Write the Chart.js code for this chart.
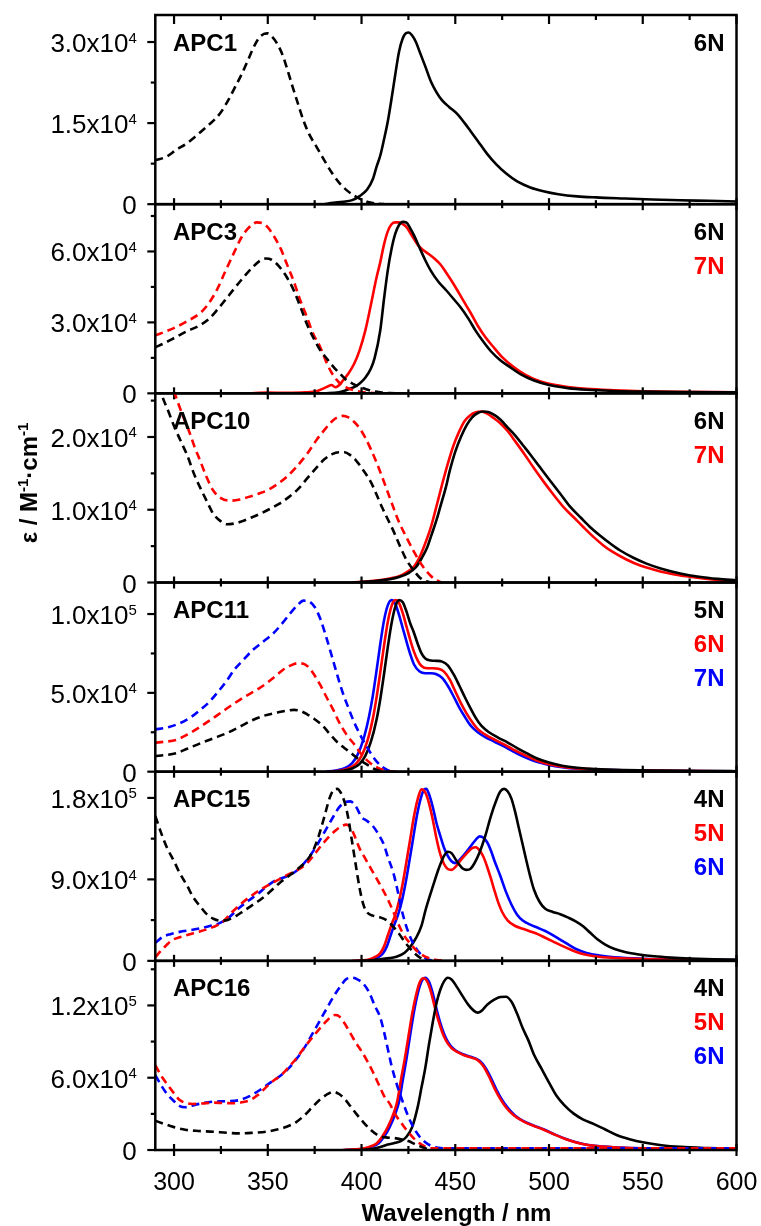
<!DOCTYPE html>
<html lang="en">
<head>
  <meta charset="UTF-8">
  <title>APC absorption / emission spectra</title>
  <script src="https://cdn.jsdelivr.net/npm/chart.js@4.4.1/dist/chart.umd.min.js"></script>
  <style>
    body { margin: 0; background: #fff; }
    #wrap { position: relative; width: 761px; height: 1226px; }
    #wrap canvas { position: absolute; left: 0; top: 0; }
  </style>
</head>
<body>
  <div id="wrap"></div>

  <script>
    // x axis (wavelength, nm)
    const xRange = [290, 600];
    const xMajor = [300, 350, 400, 450, 500, 550, 600];
    const xMinor = [325, 375, 425, 475, 525, 575];

    // y axis ticks per panel
    const apc1Ticks = [0, 15000, 30000];
    const apc3Ticks = [0, 30000, 60000];
    const apc10Ticks = [0, 10000, 20000];
    const apc11Ticks = [0, 50000, 100000];
    const apc15Ticks = [0, 90000, 180000];
    const apc16Ticks = [0, 60000, 120000];
    const yMaxes = [35000, 80000, 26000, 120000, 209000, 157000];

    // ---- APC1 ----
    const apc1Abs6N = [[290,8100],[296,8800],[301,10000],[307,11300],[312,12700],[317,14200],[322,15800],[325,17000],[329,19300],[332,21300],[336,24000],[339,26300],[342,28700],[345,30600],[348,31500],[350,31600],[352,31100],[355,29700],[358,27500],[360,25400],[363,22000],[366,18700],[369,15500],[372,13000],[376,10600],[380,8200],[384,5900],[388,4000],[392,2600],[396,1600],[400,850],[404,350],[408,100],[412,0]];
    const apc1Em6N = [[380,0],[385,250],[390,450],[395,750],[399,1500],[403,2700],[406,4600],[408,6900],[410,9000],[412,12000],[414,15300],[416,19500],[418,24000],[420,28200],[422,30700],[424,31700],[425,31750],[427,31200],[429,30000],[431,28200],[434,25500],[437,22700],[440,20700],[443,19200],[447,17900],[451,16700],[455,15000],[458,13600],[462,11700],[467,9300],[472,7300],[477,5700],[483,4200],[490,3100],[497,2400],[505,1850],[515,1450],[525,1250],[540,1050],[555,870],[570,730],[585,620],[600,500]];

    // ---- APC3 ----
    const apc3Abs6N = [[290,19500],[295,21300],[301,23800],[307,26300],[314,28900],[319,31800],[323,35300],[327,39200],[332,44200],[337,49000],[342,53400],[346,56200],[349,57000],[352,56500],[356,53700],[360,49300],[364,43300],[368,35300],[371,29000],[375,22500],[378,18200],[382,14200],[385,11200],[389,7900],[392,5600],[396,3800],[399,2700],[403,1600],[406,900],[410,400],[415,100],[420,0]];
    const apc3Abs7N = [[290,24500],[295,26000],[301,28000],[307,30500],[314,34000],[318,37500],[323,44000],[327,51000],[332,59500],[336,66000],[339,69300],[342,71500],[344,72300],[347,72000],[350,70200],[353,66800],[357,61000],[360,55000],[364,47000],[367,40000],[371,32000],[374,25500],[378,19500],[381,13600],[384,8800],[388,4600],[392,2400],[396,1300],[400,600],[405,200],[410,0]];
    const apc3Em6N = [[380,0],[388,500],[392,1400],[396,2600],[399,4200],[402,6600],[405,10500],[407,15000],[410,26700],[412,40000],[414,52000],[416,61000],[418,67500],[420,71200],[422,72500],[424,72200],[426,69800],[428,66800],[431,61500],[434,56300],[437,51800],[441,47200],[445,43700],[449,40000],[453,36200],[457,31600],[461,26300],[465,21800],[469,17800],[474,14000],[479,11200],[485,8000],[492,5400],[500,3500],[510,2200],[520,1500],[535,1000],[550,750],[570,550],[600,400]];
    const apc3Em7N = [[340,0],[350,300],[360,200],[370,400],[376,900],[380,2200],[382,2900],[384,3500],[386,2600],[388,3400],[390,5300],[393,8400],[396,12400],[399,18300],[402,26500],[405,37500],[408,49000],[410,55500],[412,63000],[414,68500],[416,71500],[418,72300],[420,72300],[422,71500],[424,70300],[427,66500],[430,62800],[433,60500],[436,58800],[439,56900],[442,54600],[445,51200],[448,47600],[451,43700],[454,39600],[458,34300],[462,28600],[466,23800],[470,19900],[475,15300],[481,11200],[487,8000],[494,5400],[502,3700],[510,2700],[520,1900],[535,1300],[550,900],[570,650],[600,450]];

    // ---- APC10 ----
    const apc10Abs6N = [[290,28800],[294,25400],[297,23500],[300,21500],[304,19200],[307,17500],[311,14700],[314,13000],[318,10900],[321,9400],[325,8400],[328,8000],[332,8100],[336,8400],[341,8900],[346,9450],[351,10100],[356,10800],[361,11700],[366,12800],[371,14300],[376,15800],[380,16900],[384,17600],[388,17900],[391,17900],[394,17500],[397,16800],[401,15400],[405,13800],[408,12100],[411,10300],[414,8700],[417,7100],[420,5300],[424,3100],[428,1600],[431,700],[434,200],[437,0]];
    const apc10Abs7N = [[290,33000],[295,30000],[299,27000],[302,24800],[305,22700],[308,20800],[311,18600],[314,16700],[317,14700],[321,12600],[325,11600],[330,11250],[335,11400],[339,11700],[345,12200],[350,12700],[355,13500],[360,14500],[365,15800],[371,17700],[376,19600],[380,20900],[384,22100],[387,22700],[390,22900],[393,22700],[396,22100],[399,21200],[402,19900],[405,18300],[408,16500],[411,14500],[414,12400],[417,10300],[420,8300],[424,6200],[428,4200],[433,2100],[437,900],[440,300],[443,0]];
    const apc10Em6N = [[395,0],[405,150],[410,300],[415,450],[420,750],[425,1300],[429,2100],[432,3300],[435,4800],[437,6300],[440,8600],[442,10400],[445,13100],[447,15300],[450,18000],[453,20000],[456,21600],[459,22700],[462,23300],[465,23500],[468,23400],[471,23000],[474,22400],[478,21300],[482,20200],[486,18900],[490,17600],[495,15900],[500,14200],[506,12200],[511,10500],[517,8900],[522,7600],[527,6500],[533,5300],[538,4400],[545,3400],[552,2600],[560,1900],[570,1250],[580,800],[590,500],[600,300]];
    const apc10Em7N = [[395,0],[405,200],[410,350],[415,550],[420,850],[424,1400],[428,2200],[431,3500],[434,5400],[437,7600],[440,10500],[443,13500],[446,16300],[449,18800],[452,20700],[455,22200],[458,23000],[461,23400],[464,23500],[467,23200],[470,22700],[474,21900],[478,20800],[482,19400],[487,17600],[492,15700],[497,13900],[502,12200],[508,10300],[513,9000],[518,7700],[524,6200],[529,5100],[534,4200],[541,3200],[549,2300],[557,1700],[567,1100],[578,700],[590,350],[600,150]];

    // ---- APC11 ----
    const apc11Abs5N = [[290,9900],[295,10500],[301,11700],[307,14500],[314,18000],[321,21200],[328,24400],[335,28500],[342,32800],[348,35500],[355,37500],[360,38700],[364,39200],[367,38700],[371,36400],[375,33300],[379,29500],[383,24000],[387,18800],[391,14900],[395,11200],[399,7400],[403,4500],[406,2200],[409,800],[413,0]];
    const apc11Abs6N = [[290,18400],[295,19000],[301,20100],[307,23500],[314,28500],[320,33300],[326,38300],[332,43200],[338,47800],[344,51800],[349,55800],[354,60600],[358,64500],[362,67300],[366,68800],[369,68500],[372,66000],[375,61000],[378,55000],[381,48000],[385,39000],[388,31500],[392,23500],[396,17500],[399,12500],[403,7200],[407,3500],[410,1800],[414,500],[418,0]];
    const apc11Abs7N = [[290,26800],[296,28000],[303,30700],[309,34600],[314,39200],[319,44500],[323,50000],[328,57500],[332,64500],[337,71000],[342,77200],[347,82000],[353,87800],[358,94500],[362,100500],[366,105800],[369,108500],[372,108000],[375,104500],[378,97000],[381,86000],[384,74000],[387,61500],[390,50000],[393,40500],[396,31500],[399,24000],[402,17500],[405,11500],[408,6500],[411,3000],[414,1000],[418,0]];
    const apc11Em5N = [[385,0],[390,600],[395,2000],[399,5000],[402,10000],[405,19000],[408,33000],[410,46000],[412,62000],[414,79000],[416,94000],[418,104500],[420,108800],[422,107500],[424,101500],[426,94000],[428,88000],[430,81000],[432,75000],[434,71800],[437,70500],[440,70300],[443,69800],[446,67500],[449,62000],[452,55000],[455,47500],[458,40500],[461,34000],[464,29000],[468,25000],[473,21500],[478,18500],[483,15000],[488,11800],[494,8200],[500,5800],[507,3800],[515,2500],[525,1600],[540,1000],[560,650],[580,450],[600,300]];
    const apc11Em6N = [[383,0],[388,600],[393,2000],[397,5000],[400,10000],[403,19000],[406,33500],[408,47000],[410,63000],[412,80000],[414,95000],[416,105000],[418,108800],[420,107000],[422,100500],[424,92000],[426,83500],[428,76000],[430,70500],[432,67000],[435,65600],[438,65600],[441,65300],[444,63500],[447,58500],[450,51000],[453,43500],[456,37000],[459,31500],[462,27000],[466,23500],[471,20300],[476,17300],[481,14000],[487,10500],[493,7300],[500,4800],[507,3200],[515,2100],[525,1400],[540,900],[560,600],[580,400],[600,300]];
    const apc11Em7N = [[381,0],[386,700],[391,2200],[395,5500],[398,11000],[401,20500],[404,35000],[406,48000],[408,64000],[410,81000],[412,96000],[414,105500],[416,108800],[418,106500],[420,99500],[422,91000],[424,82500],[426,74500],[428,68000],[431,63500],[434,62400],[437,62400],[440,61800],[443,59500],[446,54500],[449,48000],[452,41000],[455,35000],[458,29500],[462,25000],[466,22000],[471,19000],[476,16000],[481,12800],[487,9300],[493,6400],[500,4300],[507,2900],[515,1900],[525,1300],[540,850],[560,550],[580,400],[600,300]];

    // ---- APC15 ----
    const apc15Abs4N = [[290,160000],[293,142000],[296,126000],[300,110000],[303,97000],[307,83000],[310,71000],[314,60000],[317,52500],[321,46500],[325,44300],[329,45500],[333,49500],[337,55000],[341,60500],[346,67500],[351,76000],[356,85500],[361,93500],[366,101500],[370,109000],[374,121000],[377,137000],[380,158000],[383,180000],[385,188500],[387,190000],[389,185500],[391,175000],[393,157000],[395,131000],[397,105000],[399,80000],[401,62000],[403,53500],[406,50000],[410,48000],[414,44000],[417,37500],[420,30000],[423,21000],[426,13500],[429,7000],[432,2500],[435,0]];
    const apc15Abs5N = [[290,4000],[293,11000],[296,17500],[299,23000],[303,26000],[307,28500],[312,31500],[317,34500],[321,37500],[326,43000],[331,54000],[336,63500],[341,71500],[346,78500],[351,84500],[356,90000],[361,95500],[366,100500],[371,108000],[375,118000],[379,128500],[383,138000],[387,145500],[390,149500],[392,150500],[394,148000],[396,139500],[399,124000],[402,113000],[405,102000],[408,91000],[411,80000],[414,68000],[417,54000],[420,39000],[423,27000],[426,19000],[429,12000],[432,7000],[436,3000],[440,800],[444,0]];
    const apc15Abs6N = [[290,20000],[294,26500],[298,29500],[303,32000],[309,34000],[314,35900],[319,38500],[324,41400],[329,47500],[335,59000],[340,67000],[345,74500],[349,81500],[353,87500],[357,91000],[361,94000],[365,99000],[369,107000],[373,117500],[377,130500],[381,145000],[385,159500],[388,169500],[391,175000],[394,176200],[397,170500],[400,159000],[403,154500],[406,149000],[409,140000],[412,128000],[414,115000],[417,97000],[419,80000],[421,60000],[423,44000],[426,26000],[429,14000],[432,6500],[435,2000],[438,0]];
    const apc15Em4N = [[400,0],[405,600],[410,1800],[415,3000],[419,4800],[423,9000],[426,15500],[429,25000],[432,39000],[434,55000],[436,69000],[438,82000],[441,101000],[444,116000],[446,120500],[448,119000],[451,109500],[454,102000],[456,100500],[458,101500],[460,107000],[463,120000],[466,138000],[469,160000],[472,178000],[474,187000],[476,190000],[478,187000],[480,179000],[482,164000],[484,146000],[486,128000],[488,110000],[490,93000],[492,78500],[495,65000],[498,57500],[502,54000],[506,51500],[510,48000],[514,44000],[518,38500],[522,31000],[526,23500],[530,18000],[535,13000],[541,9500],[548,7000],[556,5000],[565,3600],[575,2600],[588,1800],[600,1300]];
    const apc15Em5N = [[395,0],[400,500],[404,1500],[407,4000],[410,8500],[412,16000],[414,28000],[416,40000],[418,51000],[420,66000],[422,86000],[424,110000],[426,135000],[428,160000],[430,179000],[432,189500],[434,186000],[436,174000],[438,156000],[440,135000],[442,118000],[444,107000],[446,101500],[448,100500],[450,103500],[453,111500],[456,118500],[459,124500],[461,125500],[463,122000],[465,115000],[467,104000],[469,91000],[471,77000],[473,64000],[475,54000],[478,44500],[482,38500],[486,35500],[490,32500],[494,29500],[498,25500],[502,21500],[507,16500],[512,12000],[518,7500],[525,4800],[535,3200],[550,2000],[570,1300],[600,700]];
    const apc15Em6N = [[397,0],[402,500],[406,1500],[409,4000],[411.5,8500],[413.5,16000],[415.5,28000],[417.5,40000],[419.5,51000],[421.5,66000],[423.5,86000],[425.5,110000],[427.5,135000],[429.5,160000],[431.5,179000],[433.5,189500],[434.5,190000],[436,184000],[438,170000],[440,152000],[442,138000],[444,125000],[446,116000],[448,110000],[450,108000],[452,111000],[455,118000],[458,126000],[461,134000],[463,137500],[465,136000],[467,131000],[469,122000],[471,110000],[474,94000],[477,76500],[480,62000],[483,51000],[486,44500],[490,40000],[494,36500],[498,33000],[502,28500],[506,23500],[510,18500],[515,12500],[520,8800],[527,6000],[535,4000],[550,2400],[570,1500],[600,800]];

    // ---- APC16 ----
    const apc16Abs4N = [[290,24300],[295,21500],[300,19000],[306,16800],[313,15800],[321,15200],[328,14300],[335,13800],[342,14300],[349,15200],[355,17000],[360,19300],[365,23000],[370,29500],[374,36000],[378,42000],[382,46500],[385,48400],[388,46500],[391,42500],[394,36500],[397,30400],[401,23000],[405,16600],[409,12000],[413,10500],[417,10000],[421,9000],[425,7500],[429,4500],[433,2000],[437,0]];
    const apc16Abs5N = [[290,70500],[293,62000],[296,55300],[300,47000],[303,41500],[307,38800],[310,38200],[315,38600],[321,39300],[326,39000],[332,38800],[337,39800],[341,41800],[345,46000],[349,52000],[353,57500],[357,62000],[361,68500],[365,75500],[369,84000],[373,92000],[377,99500],[381,106500],[384,111000],[386,112000],[388,111000],[391,105000],[394,97000],[397,89000],[400,82000],[403,74000],[406,65000],[409,55000],[412,45000],[415,38500],[418,29500],[421,23000],[424,16600],[428,9500],[431,5500],[434,2800],[437,1500],[445,1400],[600,1400]];
    const apc16Abs6N = [[290,62200],[293,54000],[296,47000],[300,40500],[303,36500],[306,35500],[310,37000],[315,38800],[321,40100],[328,40500],[335,41500],[340,44500],[346,50000],[351,55500],[356,60800],[361,67500],[366,77000],[370,86000],[374,97000],[378,108000],[382,119000],[385,127200],[389,136500],[392,142000],[395,143000],[398,141500],[401,138000],[404,131000],[407,120000],[410,110000],[412,98000],[414,84000],[416,70000],[419,53500],[422,40000],[425,27500],[428,18000],[431,11000],[434,6500],[437,3500],[441,1800],[445,1500],[600,1500]];
    const apc16Em4N = [[400,0],[405,800],[410,2500],[414,4500],[418,6000],[421,7500],[424,11000],[427,19000],[430,36000],[432,52000],[434,68000],[436,88000],[438,106000],[440,122000],[442,133000],[444,140000],[446,143000],[448,141500],[451,135000],[454,127500],[457,120500],[460,115500],[462,114000],[464,115500],[467,120500],[471,125000],[474,127000],[477,127200],[480,123000],[483,113000],[486,101000],[489,91000],[492,79000],[496,67500],[500,56000],[504,45000],[508,37500],[513,30400],[518,25500],[524,21500],[530,17000],[536,12500],[543,9000],[550,6400],[560,4000],[570,2600],[585,1600],[600,1000]];
    const apc16Em5N = [[390,0],[396,500],[400,1000],[404,2500],[408,5500],[411,11000],[414,19000],[417,30000],[419,40000],[421,58000],[423,75000],[425,94000],[427,113000],[429,128000],[431,139000],[433,142500],[435,140000],[437,131500],[439,119000],[441,107500],[443,98000],[445,91000],[448,84500],[451,81500],[455,78500],[459,76500],[462,74500],[465,69500],[468,61000],[471,51000],[474,42500],[477,35500],[481,29000],[486,24000],[491,20500],[496,17600],[502,13500],[508,9600],[514,6500],[520,4300],[528,2900],[540,1900],[555,1300],[575,900],[600,600]];
    const apc16Em6N = [[391,0],[397,500],[401,1000],[405,2500],[409,5500],[412,11000],[415,19000],[418,30000],[420,40000],[422,58000],[424,76000],[426,96000],[428,115000],[430,130000],[432,140000],[434,143000],[436,139500],[438,130000],[440,117000],[442,105500],[444,96500],[446,90000],[449,84000],[452,81000],[456,78500],[460,76500],[463,74000],[466,68500],[469,60000],[472,50000],[475,41500],[478,35000],[482,28500],[487,23500],[492,20200],[497,17200],[503,13000],[509,9200],[515,6200],[521,4100],[529,2800],[541,1800],[556,1250],[576,850],[600,600]];

    const BLACK = '#000000', RED = '#ff0000', BLUE = '#0000ff';
    const FONT = '"Liberation Sans", Arial, Helvetica, sans-serif';
    const W = 761, H = 1226;
    const PLOT_L = 155.3, PLOT_R = 736.5, PLOT_T = 15, PANEL_H = 189.17;

    const panels = [
      { name: 'APC1', ticks: apc1Ticks,
        tags: [['6N', BLACK]],
        series: [[apc1Abs6N, BLACK, true], [apc1Em6N, BLACK, false]] },
      { name: 'APC3', ticks: apc3Ticks,
        tags: [['6N', BLACK], ['7N', RED]],
        series: [[apc3Abs6N, BLACK, true], [apc3Abs7N, RED, true], [apc3Em6N, BLACK, false], [apc3Em7N, RED, false]] },
      { name: 'APC10', ticks: apc10Ticks,
        tags: [['6N', BLACK], ['7N', RED]],
        series: [[apc10Abs6N, BLACK, true], [apc10Abs7N, RED, true], [apc10Em6N, BLACK, false], [apc10Em7N, RED, false]] },
      { name: 'APC11', ticks: apc11Ticks,
        tags: [['5N', BLACK], ['6N', RED], ['7N', BLUE]],
        series: [[apc11Abs5N, BLACK, true], [apc11Abs6N, RED, true], [apc11Abs7N, BLUE, true],
                 [apc11Em5N, BLACK, false], [apc11Em6N, RED, false], [apc11Em7N, BLUE, false]] },
      { name: 'APC15', ticks: apc15Ticks,
        tags: [['4N', BLACK], ['5N', RED], ['6N', BLUE]],
        series: [[apc15Abs4N, BLACK, true], [apc15Abs5N, RED, true], [apc15Abs6N, BLUE, true],
                 [apc15Em4N, BLACK, false], [apc15Em5N, RED, false], [apc15Em6N, BLUE, false]] },
      { name: 'APC16', ticks: apc16Ticks,
        tags: [['4N', BLACK], ['5N', RED], ['6N', BLUE]],
        series: [[apc16Abs4N, BLACK, true], [apc16Abs5N, RED, true], [apc16Abs6N, BLUE, true],
                 [apc16Em4N, BLACK, false], [apc16Em5N, RED, false], [apc16Em6N, BLUE, false]] }
    ];

    // "1.5x10" + "4"
    function sciParts(v) {
      if (v === 0) return ['0', ''];
      const e = Math.floor(Math.log10(v) + 1e-9);
      return [(v / Math.pow(10, e)).toFixed(1) + 'x10', String(e)];
    }

    // draws a row of text pieces (size, raise, bold) laid end to end
    function drawRuns(ctx, runs, x, y, align) {
      let total = 0;
      for (const r of runs) {
        ctx.font = `${r.bold ? 'bold ' : ''}${r.size}px ${FONT}`;
        r.w = ctx.measureText(r.t).width;
        total += r.w;
      }
      let cx = align === 'center' ? x - total / 2 : (align === 'right' ? x - total : x);
      ctx.textAlign = 'left';
      ctx.textBaseline = 'alphabetic';
      for (const r of runs) {
        ctx.font = `${r.bold ? 'bold ' : ''}${r.size}px ${FONT}`;
        ctx.fillText(r.t, cx, y - (r.up || 0));
        cx += r.w;
      }
    }

    const panelDecor = {
      id: 'panelDecor',
      afterDatasetsDraw(chart, args, opts) {
        const { ctx, chartArea: a } = chart;
        const xs = chart.scales.x, ys = chart.scales.y;
        const p = opts.panel, idx = opts.index, last = idx === panels.length - 1;
        ctx.save();
        ctx.strokeStyle = '#000';
        ctx.fillStyle = '#000';
        ctx.lineWidth = 2.5;
        ctx.strokeRect(a.left, a.top, a.right - a.left, a.bottom - a.top);

        // x ticks
        ctx.lineWidth = 2.2;
        const vTick = (px, y0, y1) => { ctx.beginPath(); ctx.moveTo(px, y0); ctx.lineTo(px, y1); ctx.stroke(); };
        for (const v of xMajor) {
          const px = xs.getPixelForValue(v);
          if (idx === 0) vTick(px, a.top, a.top + 9);
          vTick(px, a.bottom - 6, a.bottom + 6);
        }
        for (const v of xMinor) {
          const px = xs.getPixelForValue(v);
          if (idx === 0) vTick(px, a.top, a.top + 5);
          vTick(px, a.bottom - 4, a.bottom + 4);
        }

        // y ticks (outward) and labels
        const step = p.ticks[1] - p.ticks[0];
        const hTick = (py, len) => { ctx.beginPath(); ctx.moveTo(a.left - len, py); ctx.lineTo(a.left, py); ctx.stroke(); };
        for (let v = step / 2; v < yMaxes[idx]; v += step) hTick(ys.getPixelForValue(v), 4.5);
        for (const v of p.ticks) {
          const py = ys.getPixelForValue(v);
          hTick(py, 8);
          const [m, e] = sciParts(v);
          const runs = [{ t: m, size: 26 }];
          if (e) runs.push({ t: e, size: 15, up: 9.5 });
          drawRuns(ctx, runs, a.left - 18.5, py + 10, 'right');
        }

        // panel name and legend tags
        ctx.font = `bold 24px ${FONT}`;
        ctx.textBaseline = 'alphabetic';
        ctx.textAlign = 'left';
        ctx.fillText(p.name, 173, a.top + 35.5);
        ctx.textAlign = 'right';
        p.tags.forEach(([t, c], i) => {
          ctx.fillStyle = c;
          ctx.fillText(t, 724.5, a.top + 35.5 + 34 * i);
        });
        ctx.fillStyle = '#000';

        if (last) {
          ctx.font = `25px ${FONT}`;
          ctx.textAlign = 'center';
          for (const v of xMajor) ctx.fillText(String(v), xs.getPixelForValue(v), 1189.5);
          ctx.font = `bold 24px ${FONT}`;
          ctx.fillText('Wavelength / nm', 456.5, 1221);

          // rotated y title
          ctx.save();
          ctx.translate(36.5, 483);
          ctx.rotate(-Math.PI / 2);
          drawRuns(ctx, [
            { t: '\u03b5 / M', size: 24, bold: true },
            { t: '-1', size: 15, bold: true, up: 9 },
            { t: '\u00b7cm', size: 24, bold: true },
            { t: '-1', size: 15, bold: true, up: 9 }
          ], 0, 0, 'center');
          ctx.restore();
        }
        ctx.restore();
      }
    };

    const wrap = document.getElementById('wrap');
    panels.forEach((p, i) => {
      const canvas = document.createElement('canvas');
      canvas.width = W;
      canvas.height = H;
      wrap.appendChild(canvas);
      const top = PLOT_T + i * PANEL_H;
      new Chart(canvas, {
        type: 'line',
        data: {
          datasets: p.series.map(([data, color, dashed]) => ({
            data: data,
            borderColor: color,
            borderWidth: 2.6,
            borderDash: dashed ? [8, 5] : [],
            pointRadius: 0,
            fill: false,
            tension: 0.4,
            cubicInterpolationMode: 'monotone'
          }))
        },
        options: {
          responsive: false,
          animation: false,
          events: [],
          layout: { padding: { left: PLOT_L, right: W - PLOT_R, top: top, bottom: H - top - PANEL_H } },
          plugins: {
            legend: { display: false },
            tooltip: { enabled: false },
            panelDecor: { panel: p, index: i }
          },
          scales: {
            x: { type: 'linear', min: xRange[0], max: xRange[1], display: false },
            y: { type: 'linear', min: 0, max: yMaxes[i], display: false }
          }
        },
        plugins: [panelDecor]
      });
    });
  </script>
</body>
</html>
